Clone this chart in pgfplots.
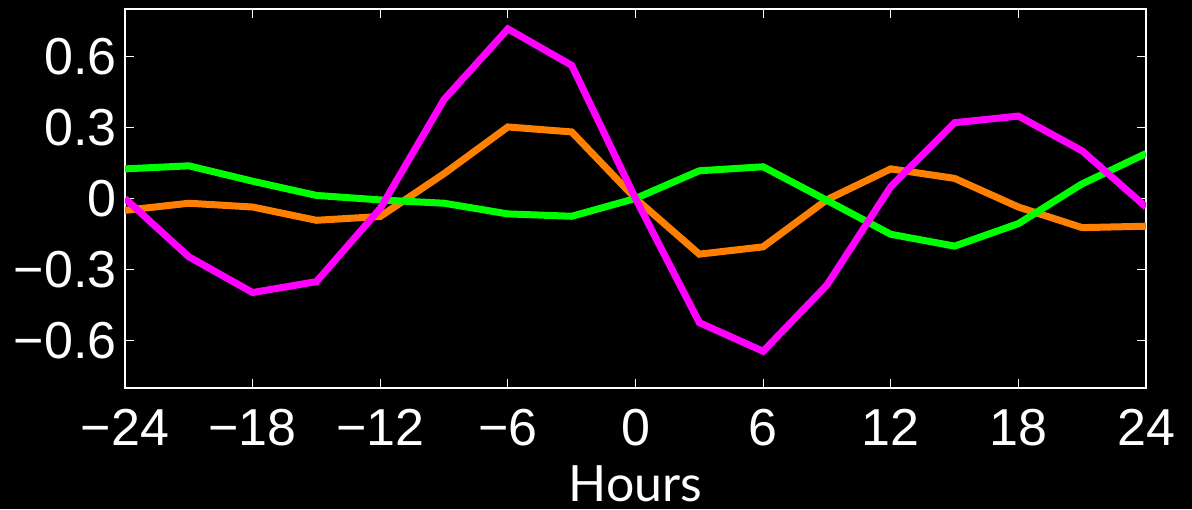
\documentclass[border=0pt]{standalone}
\usepackage{pgfplots}
\pgfplotsset{compat=1.18}
\usepackage{fontspec}
\setmainfont{Liberation Sans}
\newfontfamily\labelfont{Lato}
\definecolor{mag}{RGB}{255,0,255}
\definecolor{org}{RGB}{255,128,0}
\definecolor{grn}{RGB}{0,255,0}
\begin{document}
\begin{tikzpicture}
\fill[black] (-62.5pt,-60.5pt) rectangle (533.5pt,194pt);
\useasboundingbox (-62.5pt,-60.5pt) rectangle (533.5pt,194pt);
\begin{axis}[
  scale only axis, width=510.5pt, height=189.5pt,
  xmin=-24, xmax=24, ymin=-0.8, ymax=0.8,
  xtick={-24,-18,-12,-6,0,6,12,18,24},
  xticklabels={−24,−18,−12,−6,0,6,12,18,24},
  ytick={-0.6,-0.3,0,0.3,0.6},
  yticklabels={−0.6,−0.3,0,0.3,0.6},
  axis line style={white, line width=0.8pt},
  major tick style={white, line width=0.6pt},
  major tick length=4.5pt,
  tick label style={white, font=\fontsize{26}{26}\selectfont},
  xticklabel style={anchor=base, yshift=-28.5pt},
  yticklabel style={anchor=east, inner sep=0pt, xshift=-4pt},
  xlabel={Hours},
  xlabel style={white, font=\labelfont\fontsize{25}{25}\selectfont, at={(axis description cs:0.5,0)}, anchor=base, yshift=-56.5pt},
  every axis plot/.append style={line width=3.5pt},
]
\addplot[org] coordinates {
(-24,-0.050) (-21,-0.020) (-18,-0.036) (-15,-0.092) (-12,-0.076) (-9,0.105) (-6,0.302) (-3,0.281) (0,0) (3,-0.235) (6,-0.204) (9,-0.005) (12,0.125) (15,0.085) (18,-0.036) (21,-0.123) (24,-0.117)};
\addplot[grn] coordinates {
(-24,0.125) (-21,0.138) (-18,0.073) (-15,0.013) (-12,-0.006) (-9,-0.020) (-6,-0.065) (-3,-0.075) (0,0) (3,0.117) (6,0.134) (9,-0.008) (12,-0.151) (15,-0.201) (18,-0.106) (21,0.062) (24,0.190)};
\addplot[mag] coordinates {
(-24,0) (-21,-0.246) (-18,-0.397) (-15,-0.351) (-12,-0.042) (-9,0.418) (-6,0.716) (-3,0.562) (0,0) (3,-0.524) (6,-0.645) (9,-0.365) (12,0.050) (15,0.320) (18,0.348) (21,0.201) (24,-0.036)};
\end{axis}
\end{tikzpicture}
\end{document}
